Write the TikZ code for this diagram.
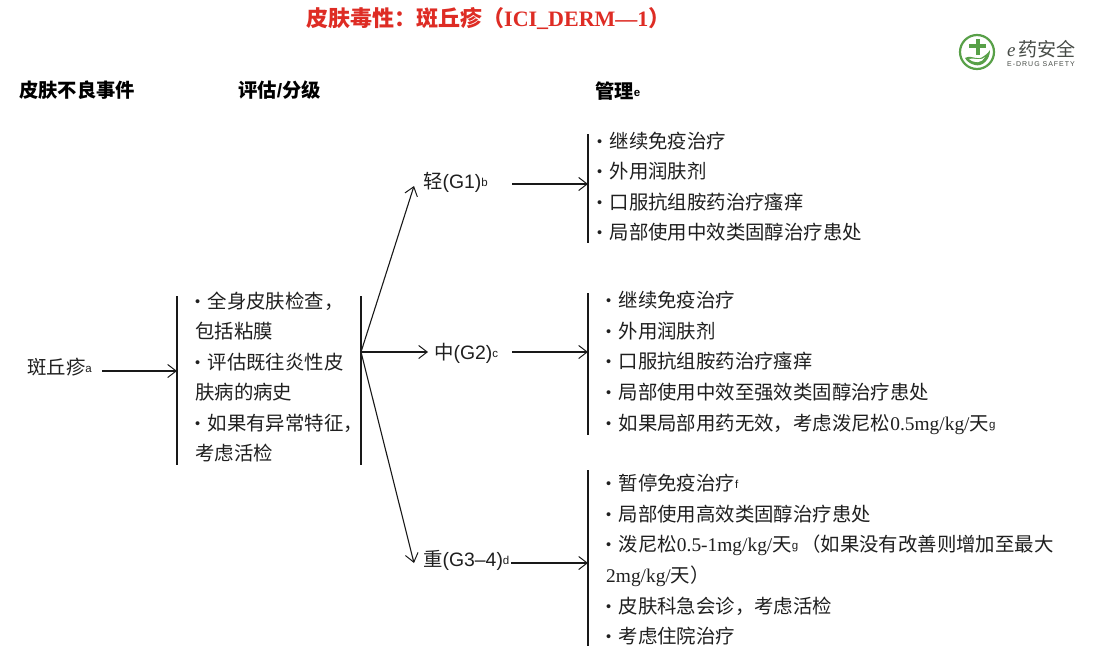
\documentclass[tikz,border=0pt]{standalone}
\usepackage{fontspec}
\usetikzlibrary{arrows.meta}
\setmainfont{Liberation Sans}
\newfontfamily\cjk{Noto Sans CJK SC}
\newfontfamily\timesf{Liberation Serif}
\newcommand{\Z}[1]{{\cjk #1}}
\newcommand{\T}[1]{{\timesf #1}}
\newcommand{\Sup}[1]{\raisebox{0.1em}{\fontsize{11.5}{11.5}\selectfont #1}}
\newcommand{\Bu}{\raisebox{0.06em}{\fontsize{14.5}{14.5}\selectfont •}\hspace{7.5pt}}
\definecolor{titlered}{RGB}{222,44,36}
\definecolor{logogreen}{RGB}{88,160,72}
\definecolor{logogray}{RGB}{70,75,70}
\tikzset{
  x=1pt,y=-1pt,
  txt/.style={anchor=base west,inner sep=0pt,font=\fontsize{19.4}{19.4}\selectfont,text=black!88},
  head/.style={anchor=base west,inner sep=0pt,font=\fontsize{19.3}{19.3}\selectfont\bfseries,text=black},
  arr/.style={-{Straight Barb[length=8.5pt,width=13pt,line width=1pt]},line width=1.1pt,black!90},
  bar/.style={line width=1.3pt,black!90}
}
\begin{document}
\begin{tikzpicture}
\useasboundingbox[fill=white] (0,0) rectangle (1097,667);
% title
\node[anchor=base west,inner sep=0pt,font=\fontsize{22}{22}\selectfont\bfseries,text=titlered] (title) at (306,26)
  {\Z{\bfseries 皮肤毒性：斑丘疹（}\T{\bfseries ICI\_DERM—1}\Z{\bfseries ）}};
% headers
\node[head] (h1) at (19,97) {\Z{\bfseries 皮肤不良事件}};
\node[head] (h2) at (238,97) {\Z{\bfseries 评估}/\Z{\bfseries 分级}};
\node[head] (h3) at (595,98) {\Z{\bfseries 管理}\Sup{e}};
% logo
\draw[logogreen,line width=2.2pt] (977,52) circle (17);
\fill[logogreen] (975.5,39) rectangle (979.5,55);
\fill[logogreen] (969,44) rectangle (986,48);
\fill[logogreen] (965,58) .. controls (973,54) and (977,62) .. (984,56) .. controls (987,54) and (989,52) .. (990,50) .. controls (990,60) and (982,67) .. (975,65) .. controls (971,64) and (967,62) .. (965,58) -- cycle;
\fill[white] (969,59) .. controls (974,57) and (979,62) .. (985,57) .. controls (982,63) and (975,64) .. (969,59) -- cycle;
\node[anchor=base west,inner sep=0pt,text=logogray,font=\fontsize{19}{19}\selectfont] (logot) at (1007,56) {\T{\itshape e}\,\Z{药安全}};
\node[anchor=base west,inner sep=0pt,text=logogray,font=\fontsize{7}{7}\selectfont\addfontfeature{LetterSpace=14}] (logos) at (1007,66) {E-DRUG SAFETY};
% left column
\node[txt] (rash) at (27,374) {\Z{斑丘疹}\Sup{a}};
\node[txt] (a1) at (195,308) {\Bu\Z{全身皮肤检查，}};
\node[txt] (a2) at (195,338) {\Z{包括粘膜}};
\node[txt] (a3) at (195,369) {\Bu\Z{评估既往炎性皮}};
\node[txt] (a4) at (195,399) {\Z{肤病的病史}};
\node[txt] (a5) at (195,430) {\Bu\Z{如果有异常特征，}};
\node[txt] (a6) at (195,460) {\Z{考虑活检}};
% grades
\node[txt] (g1) at (423,188) {\Z{轻}(G1)\Sup{b}};
\node[txt] (g2) at (434,359) {\Z{中}(G2)\Sup{c}};
\node[txt] (g3) at (423,566) {\Z{重}(G3–4)\Sup{d}};
% mgmt 1
\node[txt] (m11) at (597,148) {\Bu\Z{继续免疫治疗}};
\node[txt] (m12) at (597,178) {\Bu\Z{外用润肤剂}};
\node[txt] (m13) at (597,209) {\Bu\Z{口服抗组胺药治疗瘙痒}};
\node[txt] (m14) at (597,239) {\Bu\Z{局部使用中效类固醇治疗患处}};
% mgmt 2
\node[txt] (m21) at (606,307) {\Bu\Z{继续免疫治疗}};
\node[txt] (m22) at (606,338) {\Bu\Z{外用润肤剂}};
\node[txt] (m23) at (606,368) {\Bu\Z{口服抗组胺药治疗瘙痒}};
\node[txt] (m24) at (606,399) {\Bu\Z{局部使用中效至强效类固醇治疗患处}};
\node[txt] (m25) at (606,430) {\Bu\Z{如果局部用药无效，考虑泼尼松}\T{0.5mg/kg/}\Z{天}\Sup{g}};
% mgmt 3
\node[txt] (m31) at (606,490) {\Bu\Z{暂停免疫治疗}\Sup{f}};
\node[txt] (m32) at (606,521) {\Bu\Z{局部使用高效类固醇治疗患处}};
\node[txt] (m33) at (606,551) {\Bu\Z{泼尼松}\T{0.5-1mg/kg/}\Z{天}\Sup{g}\,\Z{（如果没有改善则增加至最大}};
\node[txt] (m34) at (606,582) {\T{2mg/kg/}\Z{天）}};
\node[txt] (m35) at (606,613) {\Bu\Z{皮肤科急会诊，考虑活检}};
\node[txt] (m36) at (606,643) {\Bu\Z{考虑住院治疗}};
% bars
\coordinate (bLt) at (177,296); \coordinate (bLb) at (177,465); \coordinate (bLa) at (177,371);
\coordinate (bRt) at (361,296); \coordinate (bRb) at (361,465); \coordinate (bRo) at (361,352);
\coordinate (b1t) at (588,134); \coordinate (b1b) at (588,243); \coordinate (b1a) at (588,184);
\coordinate (b2t) at (588,293); \coordinate (b2b) at (588,435); \coordinate (b2a) at (588,352);
\coordinate (b3t) at (588,470); \coordinate (b3b) at (588,646); \coordinate (b3a) at (588,563);
\coordinate (t1) at (414,186); \coordinate (t2) at (428,352); \coordinate (t3) at (414,563);
\coordinate (s0) at (102,371); \coordinate (s1) at (512,184); \coordinate (s2) at (512,352); \coordinate (s3) at (511,563);
\draw[bar] (bLt) -- (bLb);
\draw[bar] (bRt) -- (bRb);
\draw[bar] (b1t) -- (b1b);
\draw[bar] (b2t) -- (b2b);
\draw[bar] (b3t) -- (b3b);
% connectors
\draw[arr] (s0) -- (bLa);
\draw[arr] (bRo) -- (t1);
\draw[arr] (bRo) -- (t2);
\draw[arr] (bRo) -- (t3);
\draw[arr] (s1) -- (b1a);
\draw[arr] (s2) -- (b2a);
\draw[arr] (s3) -- (b3a);
\end{tikzpicture}
\end{document}
